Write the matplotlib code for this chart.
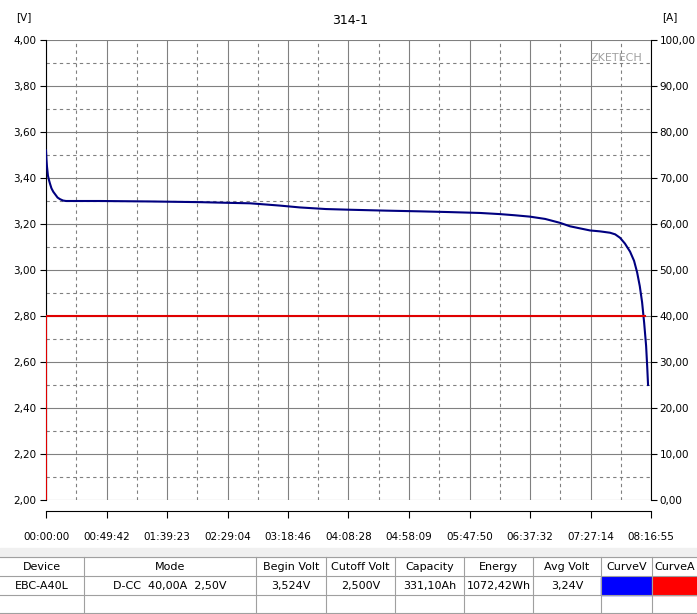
import matplotlib
matplotlib.use("Agg")
import matplotlib.pyplot as plt
from matplotlib.patches import Rectangle
import numpy as np

# data
t_min = [0, 0.4, 0.8, 1.6, 2.5, 3.3, 4.5, 6.0, 7.4, 9.5, 11.5, 14.0, 16.4, 30, 44.4, 85.4, 126.5, 150, 167.5,
         180, 192.2, 208.6, 230, 249.7, 280, 307.2, 330, 356.5, 372.9, 385, 397.5, 410, 422.2, 430.4,
         446.8, 455, 463.3, 467.5, 471.5, 475.5, 479.7, 483, 485.5, 487.7, 489.6, 491.3, 492.9, 493.8, 494.5]
volts = [3.52, 3.48, 3.45, 3.41, 3.39, 3.375, 3.355, 3.34, 3.33, 3.315, 3.308, 3.302, 3.30, 3.30, 3.30, 3.298, 3.295,
         3.292, 3.29, 3.285, 3.28, 3.272, 3.265, 3.262, 3.258, 3.255, 3.252, 3.248, 3.243, 3.238, 3.232, 3.222,
         3.205, 3.19, 3.172, 3.168, 3.162, 3.155, 3.14, 3.115, 3.08, 3.04, 2.99, 2.93, 2.86, 2.77, 2.67, 2.58, 2.50]
cur_t = [0, 0, 492.0]
cur_a = [0, 40, 40]
xtick_labels = ["00:00:00", "00:49:42", "01:39:23", "02:29:04", "03:18:46", "04:08:28",
                "04:58:09", "05:47:50", "06:37:32", "07:27:14", "08:16:55"]
t_end = 496.9167
headers = ["Device", "Mode", "Begin Volt", "Cutoff Volt", "Capacity", "Energy", "Avg Volt", "CurveV", "CurveA"]
row = ["EBC-A40L", "D-CC  40,00A  2,50V", "3,524V", "2,500V", "331,10Ah", "1072,42Wh", "3,24V", "", ""]

W, H = 697, 614
fig = plt.figure(figsize=(W/100, H/100), dpi=100)
fig.patch.set_facecolor("white")
L, R, T, B = 46, 651, 40, 500
ax = fig.add_axes([L/W, 1-B/H, (R-L)/W, (B-T)/H])
ax.spines["bottom"].set_position(("outward", 8))
for s in ["top", "right"]:
    ax.spines[s].set_visible(False)
ax.set_xlim(0, t_end)
ax.set_ylim(2.0, 4.0)
step = t_end/10
ax.set_xticks([i*step for i in range(11)])
ax.set_xticklabels(xtick_labels)
ax.set_xticks([(i+0.5)*step for i in range(10)], minor=True)
yt = np.arange(2.0, 4.01, 0.2)
ax.set_yticks(yt)
ax.set_yticklabels([f"{v:.2f}".replace(".", ",") for v in yt])
ax.set_yticks(np.arange(2.1, 4.0, 0.2), minor=True)
ax.grid(True, which="major", color="#808080", lw=0.8, ls="-")
ax.grid(True, which="minor", color="#808080", lw=0.8, ls=(0, (3, 3)))
ax.tick_params(which="minor", length=0)
ax.tick_params(axis="y", which="major", direction="out", length=4, pad=3, labelsize=7.5)
ax.tick_params(axis="x", which="major", direction="out", length=5, pad=10, labelsize=7.5)
ax.plot(t_min, volts, color="#000080", lw=1.5, zorder=5)

ax2 = ax.twinx()
ax2.set_ylim(0, 100)
ax2.set_yticks(np.arange(0, 101, 10))
ax2.set_yticklabels([f"{v:.2f}".replace(".", ",") for v in np.arange(0, 101, 10)], fontsize=7.5)
ax2.tick_params(direction="out", length=4, pad=2)
for s in ["top", "left", "bottom"]:
    ax2.spines[s].set_visible(False)
ax2.plot(cur_t, cur_a, color="#e00000", lw=1.5, zorder=4)

fig.text(350/W, 1-20/H, "314-1", ha="center", va="center", fontsize=9)
fig.text(24/W, 1-17/H, "[V]", ha="center", va="center", fontsize=7.5)
fig.text(670/W, 1-17/H, "[A]", ha="center", va="center", fontsize=7.5)
ax.text(0.985, 0.96, "ZKETECH", transform=ax.transAxes, ha="right", va="center", fontsize=8, color="#a0a0a0")

# table
cols = [0, 84, 256, 326, 395, 464, 533, 601, 652, 697]
rows_y = [557, 576, 595, 613]
fig.add_artist(Rectangle((0, 1-557/H), 1, 9/H, transform=fig.transFigure, color="#f0f0f0", zorder=0))
for y in rows_y:
    fig.add_artist(plt.Line2D([0, 1], [1-y/H, 1-y/H], color="#a0a0a0", lw=0.8))
for x in cols[1:-1]:
    fig.add_artist(plt.Line2D([x/W, x/W], [1-613/H, 1-557/H], color="#a0a0a0", lw=0.8))
for i in range(9):
    cx = (cols[i] + cols[i+1]) / 2 / W
    fig.text(cx, 1-567/H, headers[i], ha="center", va="center", fontsize=8)
    fig.text(cx, 1-586/H, row[i], ha="center", va="center", fontsize=8)
fig.add_artist(Rectangle((cols[7]/W, 1-595/H), (cols[8]-cols[7])/W, 18/H, transform=fig.transFigure, color="#0000ff"))
fig.add_artist(Rectangle((cols[8]/W, 1-595/H), (cols[9]-cols[8])/W, 18/H, transform=fig.transFigure, color="#ff0000"))

fig.savefig("out.png", dpi=100)
